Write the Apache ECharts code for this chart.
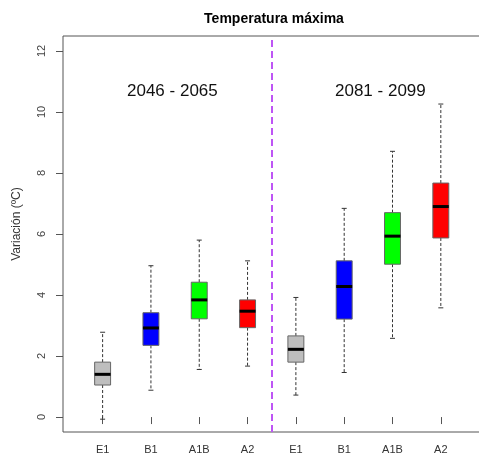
<!DOCTYPE html>
<html>
<head>
<meta charset="utf-8">
<script src="https://cdn.jsdelivr.net/npm/echarts@6/dist/echarts.min.js"></script>
<style>
  html, body { margin: 0; padding: 0; background: #fff; }
  #chart { width: 479px; height: 464px; }
</style>
</head>
<body>
<div id="chart"></div>
<script>
// escenarios por posicion en el eje x (1..8)
const labels = ['E1', 'B1', 'A1B', 'A2', 'E1', 'B1', 'A1B', 'A2']
const positions = [1, 2, 3, 4, 5, 6, 7, 8]
const mins = [-0.07, 0.88, 1.56, 1.67, 0.72, 1.46, 2.58, 3.58]
const q1s = [1.05, 2.35, 3.22, 2.93, 1.80, 3.21, 5.01, 5.87]
const medians = [1.40, 2.92, 3.84, 3.47, 2.22, 4.28, 5.93, 6.90]
const q3s = [1.80, 3.42, 4.42, 3.84, 2.66, 5.12, 6.70, 7.67]
const maxs = [2.78, 4.96, 5.80, 5.12, 3.92, 6.84, 8.71, 10.26]
const yTicks = [0, 2, 4, 6, 8, 10, 12]
const periods = ['2046 - 2065', '2081 - 2099']
const divider = 4.5

const boxColors = ['#BEBEBE', '#0000FF', '#00FF00', '#FF0000']

const chart = echarts.init(document.getElementById('chart'))

const boxData = positions.map((p, i) => [p, mins[i], q1s[i], medians[i], q3s[i], maxs[i], i % 4])

function renderBox (params, api) {
  const x = api.value(0)
  const pMin = api.coord([x, api.value(1)])
  const pQ1 = api.coord([x, api.value(2)])
  const pMed = api.coord([x, api.value(3)])
  const pQ3 = api.coord([x, api.value(4)])
  const pMax = api.coord([x, api.value(5)])
  const half = api.size([0.33, 0])[0] / 2
  const cap = 2.5
  const cx = pMed[0]
  const dash = { stroke: '#333', lineWidth: 1, lineDash: [3, 2] }
  return {
    type: 'group',
    children: [
      { type: 'line', shape: { x1: cx, y1: pQ1[1], x2: cx, y2: pMin[1] }, style: dash },
      { type: 'line', shape: { x1: cx, y1: pQ3[1], x2: cx, y2: pMax[1] }, style: dash },
      { type: 'line', shape: { x1: cx - cap, y1: pMin[1], x2: cx + cap, y2: pMin[1] }, style: { stroke: '#333', lineWidth: 1 } },
      { type: 'line', shape: { x1: cx - cap, y1: pMax[1], x2: cx + cap, y2: pMax[1] }, style: { stroke: '#333', lineWidth: 1 } },
      {
        type: 'rect',
        shape: { x: cx - half, y: pQ3[1], width: half * 2, height: pQ1[1] - pQ3[1] },
        style: { fill: boxColors[api.value(6)], stroke: '#666', lineWidth: 1 }
      },
      { type: 'line', shape: { x1: cx - half, y1: pMed[1], x2: cx + half, y2: pMed[1] }, style: { stroke: '#000', lineWidth: 3 } }
    ]
  }
}

const option = {
  backgroundColor: '#fff',
  animation: false,
  textStyle: { fontFamily: 'Liberation Sans, Arial, sans-serif' },
  title: {
    text: 'Temperatura máxima',
    left: 269,
    top: 7,
    textAlign: 'center',
    textStyle: { fontSize: 14, fontWeight: 'bold', color: '#000' }
  },
  grid: {
    left: 63,
    top: 36,
    width: 430,
    height: 396,
    outerBoundsMode: 'none',
    containLabel: false,
    show: true,
    borderColor: '#555',
    borderWidth: 1,
    backgroundColor: 'transparent'
  },
  xAxis: {
    type: 'value',
    min: 0.18,
    max: 9.08,
    axisLine: { show: false },
    splitLine: { show: false },
    axisTick: { show: true, length: 7, customValues: positions, lineStyle: { color: '#555' } },
    axisLabel: {
      customValues: positions,
      margin: 12,
      fontSize: 11,
      color: '#333',
      formatter: v => labels[Math.round(v) - 1] || ''
    }
  },
  yAxis: {
    type: 'value',
    min: -0.49,
    max: 12.49,
    axisLine: { show: false },
    splitLine: { show: false },
    axisTick: { show: true, length: 7, customValues: yTicks, lineStyle: { color: '#555' } },
    axisLabel: {
      customValues: yTicks,
      rotate: 90,
      margin: 16,
      fontSize: 11,
      color: '#444'
    }
  },
  graphic: [
    { type: 'text', left: 127, top: 83, style: { text: periods[0], fill: '#111', font: '17px Liberation Sans' } },
    { type: 'text', left: 335, top: 83, style: { text: periods[1], fill: '#111', font: '17px Liberation Sans' } },
    {
      type: 'text',
      x: 17,
      y: 224,
      rotation: Math.PI / 2,
      style: { text: 'Variación (ºC)', fill: '#333', font: '12px Liberation Sans', align: 'center', verticalAlign: 'middle' }
    }
  ],
  series: [
    {
      type: 'custom',
      renderItem: renderBox,
      data: boxData,
      encode: { x: 0, y: [1, 2, 3, 4, 5] },
      markLine: {
        silent: true,
        symbol: 'none',
        label: { show: false },
        lineStyle: { color: '#BE55F5', type: [7, 4], width: 2 },
        data: [{ xAxis: divider }]
      }
    }
  ]
}

chart.setOption(option)
</script>
</body>
</html>
